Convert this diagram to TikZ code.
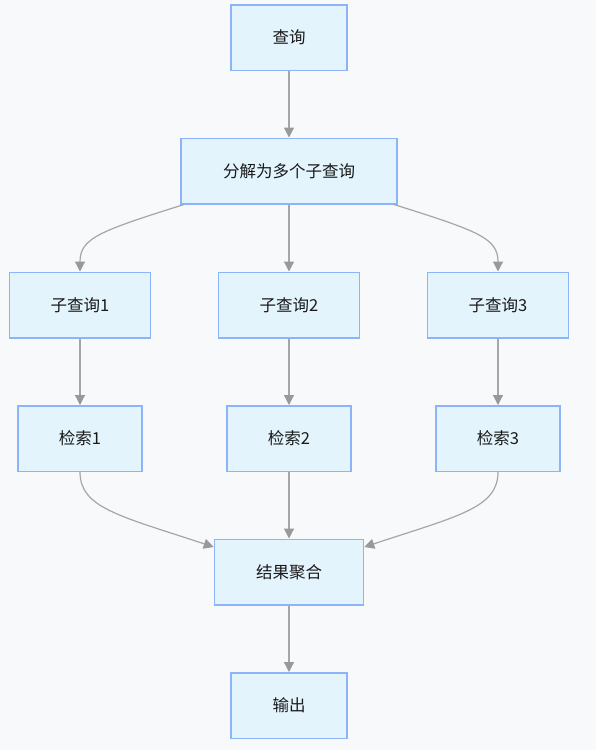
\documentclass[tikz,border=0pt]{standalone}
\usepackage{fontspec}
\setmainfont{Noto Sans CJK SC}
\usetikzlibrary{arrows.meta}
\definecolor{bgc}{HTML}{F8F9FB}
\definecolor{boxfill}{HTML}{E3F4FD}
\definecolor{boxline}{HTML}{8CB4F8}
\definecolor{edgec}{HTML}{A6A6A6}
\definecolor{tipc}{HTML}{999999}
\begin{document}
\begin{tikzpicture}[x=1pt,y=-1pt,
  box/.style={draw=boxline, fill=boxfill, line width=1.5pt, inner sep=0pt,
    minimum height=65.5pt, font=\fontsize{16.5pt}{18pt}\selectfont, text=black!90},
  edge/.style={draw=edgec, line width=1.2pt,
    -{Triangle[length=10pt,width=10pt,color=tipc,fill=tipc]}}]
\fill[bgc] (0,0) rectangle (596,750);
\useasboundingbox (0,0) rectangle (596,750);

\node[box, minimum width=116pt] (q) at (289,37.5) {查询};
\node[box, minimum width=216pt] (d) at (289,171) {分解为多个子查询};
\node[box, minimum width=141pt] (s1) at (80,305) {子查询1};
\node[box, minimum width=141pt] (s2) at (289,305) {子查询2};
\node[box, minimum width=141pt] (s3) at (498,305) {子查询3};
\node[box, minimum width=124pt] (r1) at (80,438.5) {检索1};
\node[box, minimum width=124pt] (r2) at (289,438.5) {检索2};
\node[box, minimum width=124pt] (r3) at (498,438.5) {检索3};
\node[box, minimum width=149pt] (a) at (289,572) {结果聚合};
\node[box, minimum width=116pt] (o) at (289,705.5) {输出};

\draw[edge] (q) -- (d);
\draw[edge] ([xshift=-105pt]d.south) .. controls (100,231) and (80,238) .. (s1.north);
\draw[edge] (d) -- (s2);
\draw[edge] ([xshift=105pt]d.south) .. controls (478,231) and (498,238) .. (s3.north);
\draw[edge] (s1) -- (r1);
\draw[edge] (s2) -- (r2);
\draw[edge] (s3) -- (r3);
\draw[edge] (r1.south) .. controls (80,508) and (120,516) .. ([yshift=25pt]a.west);
\draw[edge] (r2) -- (a);
\draw[edge] (r3.south) .. controls (498,508) and (458,516) .. ([yshift=25pt]a.east);
\draw[edge] (a) -- (o);
\end{tikzpicture}
\end{document}
